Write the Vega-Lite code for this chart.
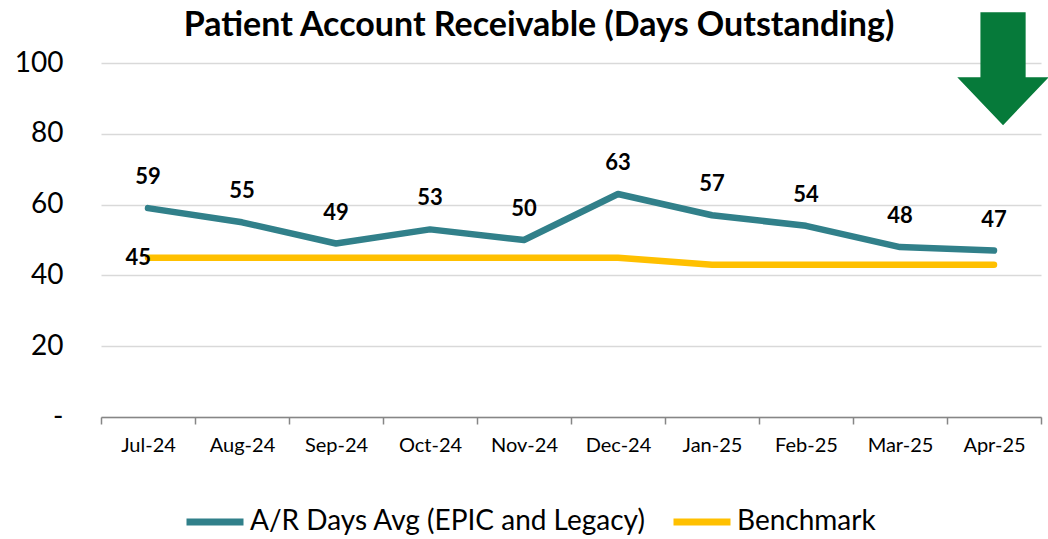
{
  "$schema": "https://vega.github.io/schema/vega-lite/v6.json",
  "width": 940,
  "height": 354,
  "autosize": {"type": "none"},
  "padding": {"left": 101, "top": 63, "right": 7, "bottom": 122},
  "background": "white",
  "title": {
    "text": "Patient Account Receivable (Days Outstanding)",
    "font": "Lato",
    "fontSize": 34,
    "fontWeight": "bold",
    "color": "#000000",
    "anchor": "middle",
    "dx": -32,
    "offset": -31
  },
  "config": {
    "view": {"stroke": null},
    "font": "Lato"
  },
  "datasets": {
    "main": [
      {"month": "Jul-24", "series": "A/R Days Avg (EPIC and Legacy)", "value": 59},
      {"month": "Aug-24", "series": "A/R Days Avg (EPIC and Legacy)", "value": 55},
      {"month": "Sep-24", "series": "A/R Days Avg (EPIC and Legacy)", "value": 49},
      {"month": "Oct-24", "series": "A/R Days Avg (EPIC and Legacy)", "value": 53},
      {"month": "Nov-24", "series": "A/R Days Avg (EPIC and Legacy)", "value": 50},
      {"month": "Dec-24", "series": "A/R Days Avg (EPIC and Legacy)", "value": 63},
      {"month": "Jan-25", "series": "A/R Days Avg (EPIC and Legacy)", "value": 57},
      {"month": "Feb-25", "series": "A/R Days Avg (EPIC and Legacy)", "value": 54},
      {"month": "Mar-25", "series": "A/R Days Avg (EPIC and Legacy)", "value": 48},
      {"month": "Apr-25", "series": "A/R Days Avg (EPIC and Legacy)", "value": 47},
      {"month": "Jul-24", "series": "Benchmark", "value": 45},
      {"month": "Aug-24", "series": "Benchmark", "value": 45},
      {"month": "Sep-24", "series": "Benchmark", "value": 45},
      {"month": "Oct-24", "series": "Benchmark", "value": 45},
      {"month": "Nov-24", "series": "Benchmark", "value": 45},
      {"month": "Dec-24", "series": "Benchmark", "value": 45},
      {"month": "Jan-25", "series": "Benchmark", "value": 43},
      {"month": "Feb-25", "series": "Benchmark", "value": 43},
      {"month": "Mar-25", "series": "Benchmark", "value": 43},
      {"month": "Apr-25", "series": "Benchmark", "value": 43}
    ],
    "arrow": [
      {"month": "Apr-25", "value": 98.4}
    ]
  },
  "encoding": {
    "x": {
      "field": "month",
      "type": "nominal",
      "sort": null,
      "scale": {"type": "band", "paddingInner": 0, "paddingOuter": 0,
        "domain": ["Jul-24","Aug-24","Sep-24","Oct-24","Nov-24","Dec-24","Jan-25","Feb-25","Mar-25","Apr-25"]},
      "axis": {
        "title": null,
        "labelAngle": 0,
        "labelFont": "Lato",
        "labelFontSize": 20,
        "labelColor": "#000000",
        "labelPadding": 11,
        "tickBand": "extent",
        "domainColor": "#868686",
        "domainWidth": 1.5,
        "tickColor": "#868686",
        "tickWidth": 1.5,
        "tickSize": 7,
        "grid": false
      }
    },
    "y": {
      "field": "value",
      "type": "quantitative",
      "scale": {"domain": [0, 100]},
      "axis": {
        "title": null,
        "values": [0, 20, 40, 60, 80, 100],
        "labelExpr": "datum.value == 0 ? '-' : datum.label",
        "labelFont": "Lato",
        "labelFontSize": 28,
        "labelColor": "#000000",
        "labelPadding": 38,
        "domain": false,
        "ticks": false,
        "grid": true,
        "gridColor": "#D9D9D9",
        "gridWidth": 1.5
      }
    }
  },
  "layer": [
    {
      "data": {"name": "main"},
      "mark": {"type": "line", "strokeWidth": 6.5, "strokeCap": "round", "strokeJoin": "round"},
      "encoding": {
        "color": {
          "field": "series",
          "type": "nominal",
          "sort": ["A/R Days Avg (EPIC and Legacy)", "Benchmark"],
          "scale": {"domain": ["A/R Days Avg (EPIC and Legacy)", "Benchmark"], "range": ["#31808A", "#FFC000"]},
          "legend": {
            "title": null,
            "orient": "none",
            "legendX": 82,
            "legendY": 427,
            "direction": "horizontal",
            "symbolType": "stroke",
            "symbolSize": 3249,
            "symbolStrokeWidth": 7,
            "labelFont": "Lato",
            "labelFontSize": 28,
            "labelColor": "#000000",
            "labelLimit": 700,
            "labelOffset": 3,
            "columnPadding": 13,
            "symbolOffset": 0
          }
        }
      }
    },
    {
      "data": {"name": "main"},
      "transform": [{"filter": "datum.series == 'A/R Days Avg (EPIC and Legacy)'"}],
      "mark": {"type": "text", "font": "Lato", "fontSize": 22, "fontWeight": "bold", "color": "#000000", "dy": -31, "baseline": "middle"},
      "encoding": {"text": {"field": "value", "type": "quantitative"}}
    },
    {
      "data": {"name": "main"},
      "transform": [{"filter": "datum.series == 'Benchmark' && datum.month == 'Jul-24'"}],
      "mark": {"type": "text", "font": "Lato", "fontSize": 22, "fontWeight": "bold", "color": "#000000", "align": "right", "dx": 3, "baseline": "middle"},
      "encoding": {"text": {"field": "value", "type": "quantitative"}}
    },
    {
      "data": {"name": "arrow"},
      "mark": {
        "type": "point",
        "filled": true,
        "color": "#067A3A",
        "opacity": 1,
        "size": 12769,
        "shape": "M-0.24,-1 L0.56,-1 L0.56,0.15 L0.97,0.15 L0.16,1 L-0.65,0.15 L-0.24,0.15 Z"
      }
    }
  ]
}
